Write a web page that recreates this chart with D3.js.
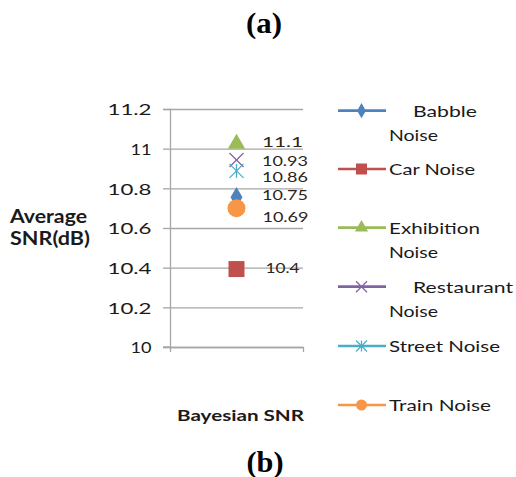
<!DOCTYPE html>
<html><head><meta charset="utf-8">
<script src="https://cdn.jsdelivr.net/npm/d3@7"></script>
<style>
html,body{margin:0;padding:0;background:#fff;}
svg{display:block;}
</style></head>
<body>
<script>
// ---- data ----
const series = ["Babble Noise","Car Noise","Exhibition Noise","Restaurant Noise","Street Noise","Train Noise"];
const values = [10.755, 10.393, 11.025, 10.943, 10.888, 10.70];
const valueLabels = ["10.75","10.4","11.1","10.93","10.86","10.69"];
const category = ["Bayesian SNR"];
const yTicks = [10, 10.2, 10.4, 10.6, 10.8, 11, 11.2];
const yTickLabels = ["10","10.2","10.4","10.6","10.8","11","11.2"];
const colors = ["#4F81BD","#C0504D","#9BBB59","#8064A2","#4BACC6","#F79646"];
const shapes = ["diamond","square","triangle","x","star","circle"];

// ---- layout ----
const W = 516, H = 477;
const svg = d3.select("body").append("svg").attr("width", W).attr("height", H);
const FONT = "Lato, 'Open Sans', sans-serif";

function txt(g, s, x, y, len, size, opts = {}) {
  const t = g.append("text").attr("x", x).attr("y", y).text(s)
    .attr("font-family", opts.family || FONT)
    .attr("font-size", size)
    .attr("font-weight", opts.weight || "normal")
    .attr("fill", opts.fill || "#1a1a1a")
    .attr("text-anchor", opts.anchor || "start");
  if (len) t.attr("textLength", len).attr("lengthAdjust", "spacingAndGlyphs");
  return t;
}

// titles
txt(svg, "(a)", 246, 33, 36, 29, {family: "'Liberation Serif', 'Times New Roman', serif", weight: "bold", fill: "#000"});
txt(svg, "(b)", 246.5, 472, 37, 29, {family: "'Liberation Serif', 'Times New Roman', serif", weight: "bold", fill: "#000"});

// scales
const x = d3.scaleBand().domain(category).range([170, 303]);
const y = d3.scaleLinear().domain([10, 11.2]).range([347, 109]);

// gridlines
const grid = svg.append("g").attr("transform", "translate(170,0)")
  .call(d3.axisLeft(y).tickValues(yTicks).tickSize(-(303 - 170)).tickFormat(""));
grid.select(".domain").remove();
grid.selectAll(".tick line").attr("stroke", "#a6a6a6").attr("stroke-width", 1.3);

// y axis
const yAxis = svg.append("g").attr("transform", "translate(170,0)")
  .call(d3.axisLeft(y).tickValues(yTicks).tickSize(7).tickPadding(11.5)
    .tickFormat((d, i) => yTickLabels[i]));
yAxis.select(".domain").attr("stroke", "#a6a6a6").attr("stroke-width", 1.3);
yAxis.selectAll(".tick line").attr("stroke", "#a6a6a6").attr("stroke-width", 1.3);
yAxis.selectAll(".tick text").attr("font-family", FONT).attr("font-size", 16)
  .attr("fill", "#1a1a1a").attr("dy", "0.36em")
  .each(function(d, i) {
    const s = yTickLabels[i];
    const L = s.length === 2 ? 21 : 44;
    d3.select(this).attr("textLength", L).attr("lengthAdjust", "spacingAndGlyphs");
  });

// x axis (bottom line with ticks at category boundaries)
const xAxis = svg.append("g").attr("transform", "translate(0,347)")
  .call(d3.axisBottom(x).tickValues([]).tickSizeOuter(5));
xAxis.select(".domain").attr("stroke", "#a6a6a6").attr("stroke-width", 1.3);
svg.append("line").attr("x1", 163).attr("x2", 170).attr("y1", 347).attr("y2", 347)
  .attr("stroke", "#a6a6a6").attr("stroke-width", 1.3);

// axis titles
txt(svg, "Average", 10, 223, 77, 18, {weight: "bold"});
txt(svg, "SNR(dB)", 10, 245, 80, 18, {weight: "bold"});
txt(svg, category[0], 177, 421, 127, 16, {weight: "bold"});

// marker drawing
function marker(g, shape, color, cx, cy, s) {
  const sym = {
    diamond: d3.symbolDiamond, square: d3.symbolSquare,
    triangle: d3.symbolTriangle, circle: d3.symbolCircle
  }[shape];
  if (sym) {
    const area = {diamond: s * s * 0.55, square: s * s, triangle: s * s * 0.62, circle: s * s * 0.78}[shape];
    g.append("path").attr("d", d3.symbol(sym, area)())
      .attr("transform", `translate(${cx},${cy})`).attr("fill", color);
  } else {
    const h = s / 2;
    const p = g.append("g").attr("transform", `translate(${cx},${cy})`)
      .attr("stroke", color).attr("stroke-width", 1.3).attr("fill", "none");
    p.append("line").attr("x1", -h).attr("y1", -h).attr("x2", h).attr("y2", h);
    p.append("line").attr("x1", -h).attr("y1", h).attr("x2", h).attr("y2", -h);
    if (shape === "star") p.append("line").attr("x1", 0).attr("y1", -h).attr("x2", 0).attr("y2", h);
  }
}

// data markers
const cx = x(category[0]) + x.bandwidth() / 2;
const markerSizes = [15, 16, 14.5, 14, 14, 18];
const plot = svg.append("g");
series.forEach((s, i) => {
  marker(plot, shapes[i], colors[i], cx, y(values[i]), markerSizes[i]);
});

// data labels (offsets from marker, placed to the right)
const labelDX = [25.5, 29, 25.5, 25.5, 25.5, 26];
const labelDY = [-2, -1, -2, 0.5, 6.5, 9];
const labelLen = [46, 34, 41, 46, 46, 46];
series.forEach((s, i) => {
  txt(svg, valueLabels[i], cx + labelDX[i], y(values[i]) + labelDY[i], labelLen[i], 14,
    {fill: "#2e2418"}).attr("dy", "0.36em");
});

// legend
const legLines = [["Babble", "Noise"], ["Car Noise"], ["Exhibition", "Noise"], ["Restaurant", "Noise"], ["Street Noise"], ["Train Noise"]];
const legIndent = [true, false, false, true, false, false];
const legY = [110.7, 169, 227.7, 286.7, 346, 405];
const legLen = [[64, 49], [86], [91, 49], [100, 49], [111], [102]];
const leg = svg.append("g");
series.forEach((s, i) => {
  const ly = legY[i];
  leg.append("line").attr("x1", 338).attr("x2", 386).attr("y1", ly).attr("y2", ly)
    .attr("stroke", colors[i]).attr("stroke-width", 2.7);
  marker(leg, shapes[i], colors[i], 361.5, ly, 11);
  const lines = legLines[i];
  txt(leg, lines[0], legIndent[i] ? 413 : 389, ly + 6, legLen[i][0], 16);
  if (lines.length === 2) txt(leg, lines[1], 389, ly + 30, legLen[i][1], 16);
});
</script>
</body></html>
